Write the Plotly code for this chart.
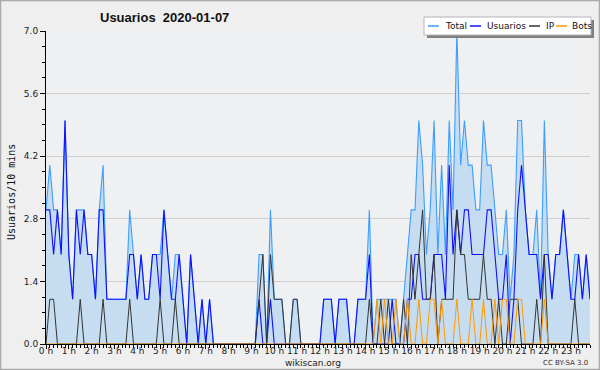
import plotly.graph_objects as go

# ---- data (10-minute buckets, 144 per day) ----
hours_labels = [f"{h} h" for h in range(24)]

total = [3,4,3,3,2,5,2,1,3,3,
         3,2,2,1,3,4,1,1,1,1,
         1,1,3,2,1,2,1,1,2,2,
         2,3,2,1,2,2,1,0,2,1,
         0,1,0,1,0,0,0,0,0,0,
         0,0,0,0,0,0,2,2,0,3,
         1,1,1,0,0,1,1,0,0,0,
         0,0,0,1,1,1,0,1,1,1,
         0,0,1,1,1,3,0,1,1,1,
         1,1,1,0,1,2,3,3,5,4,
         2,3,5,2,4,2,5,3,7,4,
         5,4,4,3,3,5,4,4,3,2,
         2,3,1,2,5,5,3,2,2,3,
         1,5,2,1,2,2,3,2,1,2,
         2,1,2,1]

usuarios = [3,3,2,3,2,5,2,1,3,2,
            3,2,2,1,3,3,1,1,1,1,
            1,1,2,2,1,2,1,1,2,2,
            1,3,2,1,1,2,1,0,2,1,
            0,1,0,1,0,0,0,0,0,0,
            0,0,0,0,0,0,1,0,0,1,
            0,0,0,0,0,0,0,0,0,0,
            0,0,0,1,1,1,0,1,1,1,
            0,0,1,1,1,2,0,0,0,0,
            0,1,0,0,0,1,1,2,2,1,
            1,1,2,2,2,1,4,2,3,2,
            3,3,2,2,2,2,3,3,2,1,
            1,2,0,1,3,4,3,2,2,2,
            1,2,2,1,2,2,3,2,1,1,
            2,1,2,1]

ip = [0,1,1,0,0,0,0,0,0,1,
      0,0,0,0,0,1,0,0,0,0,
      0,0,1,0,0,0,0,0,0,0,
      1,0,0,0,1,0,0,0,0,0,
      0,0,0,0,0,0,0,0,0,0,
      0,0,0,0,0,0,1,2,0,2,
      1,1,1,0,0,1,1,0,0,0,
      0,0,0,0,0,0,0,0,0,0,
      0,0,0,0,0,1,0,0,1,0,
      1,0,0,0,1,0,2,1,2,3,
      1,1,2,0,1,1,1,1,3,2,
      2,1,1,1,1,2,1,1,0,1,
      0,0,1,1,1,0,0,0,0,1,
      0,2,0,0,0,0,0,0,0,1,
      0,0,0,0]

bots = [0,0,0,0,0,0,0,0,0,0,
        0,0,0,0,0,0,0,0,0,0,
        0,0,0,0,0,0,0,0,0,0,
        0,0,0,0,0,0,0,0,0,0,
        0,0,0,0,0,0,0,0,0,0,
        0,0,0,0,0,0,0,0,0,0,
        0,0,0,0,0,0,0,0,0,0,
        0,0,0,0,0,0,0,0,0,0,
        0,0,0,0,0,0,0,1,0,1,
        0,0,1,0,0,1,0,0,1,0,
        0,1,1,0,1,0,0,0,1,0,
        0,0,1,0,0,1,0,0,1,0,
        1,1,0,0,1,1,0,0,0,0,
        0,1,0,0,0,0,0,0,0,0,
        0,0,0,0]

x = list(range(len(total)))

# ---- layout geometry (pixels) ----
W, H = 600, 370
ML, MR, MT, MB = 46, 10, 31, 26
PW, PH = W - ML - MR, H - MT - MB

def px(xp):
    return (xp - ML) / PW

def py(yp):
    return (H - MB - yp) / PH

C_TOTAL = "#3d9eff"
C_USR = "#1010ff"
C_IP = "#333333"
C_BOT = "#ff9900"

fig = go.Figure()
fig.add_trace(go.Scatter(x=x, y=total, mode="lines", name="Total",
                         line=dict(color=C_TOTAL, width=1.1),
                         fill="tozeroy", fillcolor="#c6ddf1"))
fig.add_trace(go.Scatter(x=x, y=usuarios, mode="lines", name="Usuarios",
                         line=dict(color=C_USR, width=1.1)))
fig.add_trace(go.Scatter(x=x, y=ip, mode="lines", name="IP",
                         line=dict(color=C_IP, width=1)))
fig.add_trace(go.Scatter(x=x, y=bots, mode="lines", name="Bots",
                         line=dict(color=C_BOT, width=1)))

tick_font = dict(family="DejaVu Sans", size=9, color="#222")

fig.update_layout(
    width=W, height=H,
    margin=dict(l=ML, r=MR, t=MT, b=MB, autoexpand=False),
    paper_bgcolor="#efefef",
    plot_bgcolor="#eef0f2",
    showlegend=False,
    title=dict(text="<b>Usuarios  2020-01-07</b>", x=100 / W, xanchor="left",
               xref="container", y=1 - 17 / H, yanchor="middle", yref="container",
               font=dict(family="Liberation Sans", size=13, color="#111")),
    xaxis=dict(range=[0, 143], tickvals=list(range(0, 144, 6)),
               ticktext=hours_labels, ticks="outside", ticklen=4,
               tickcolor="#000", showline=True, linecolor="#000", linewidth=1,
               showgrid=False, zeroline=False, tickfont=tick_font,
               automargin=False, ticklabelstandoff=-6,
               minor=dict(dtick=1, ticks="outside", ticklen=3, tickcolor="#000",
                          showgrid=False)),
    yaxis=dict(range=[0, 7], tickvals=[0, 1.4, 2.8, 4.2, 5.6, 7.0],
               ticktext=["0.0", "1.4", "2.8", "4.2", "5.6", "7.0"],
               ticks="outside", ticklen=5, tickcolor="#000",
               showline=True, linecolor="#000", linewidth=1,
               showgrid=True, gridcolor="#cfcfcf", gridwidth=1,
               zeroline=False, tickfont=tick_font, automargin=False,
               minor=dict(dtick=0.35, tick0=0, ticks="outside", ticklen=3,
                          tickcolor="#000", showgrid=False)),
)

shapes = []
annotations = []

# outer border
shapes.append(dict(type="rect", xref="paper", yref="paper",
                   x0=px(0.5), x1=px(W - 0.5), y0=py(H - 0.5), y1=py(0.5),
                   line=dict(color="#aaaaaa", width=1.5), fillcolor="rgba(0,0,0,0)",
                   layer="above"))

# legend box with shadow
shapes.append(dict(type="rect", xref="paper", yref="paper",
                   x0=px(427), x1=px(594), y0=py(38), y1=py(20),
                   line=dict(width=0), fillcolor="#808080", layer="above"))
shapes.append(dict(type="rect", xref="paper", yref="paper",
                   x0=px(424), x1=px(591), y0=py(35), y1=py(17),
                   line=dict(color="#b5b5b5", width=1), fillcolor="#ffffff",
                   layer="above"))
legend_items = [("Total", C_TOTAL, 428, 443),
                ("Usuarios", C_USR, 470, 485),
                ("IP", C_IP, 529, 544),
                ("Bots", C_BOT, 556, 570)]
for name, col, lx, tx in legend_items:
    shapes.append(dict(type="line", xref="paper", yref="paper",
                       x0=px(lx), x1=px(lx + 11), y0=py(26), y1=py(26),
                       line=dict(color=col, width=1.5), layer="above"))
    annotations.append(dict(text=name, xref="paper", yref="paper",
                            x=px(tx), y=py(26), xanchor="left", yanchor="middle",
                            showarrow=False,
                            font=dict(family="DejaVu Sans", size=9, color="#111")))

# axis titles and credits
annotations.append(dict(text="Usuarios/10 mins", xref="paper", yref="paper",
                        x=px(11), y=py(192), xanchor="center", yanchor="middle",
                        textangle=-90, showarrow=False,
                        font=dict(family="DejaVu Sans Mono", size=10, color="#111")))
annotations.append(dict(text="wikiscan.org", xref="paper", yref="paper",
                        x=px(313), y=py(363), xanchor="center", yanchor="middle",
                        showarrow=False,
                        font=dict(family="DejaVu Sans", size=9, color="#222")))
annotations.append(dict(text="CC BY-SA 3.0", xref="paper", yref="paper",
                        x=px(590), y=py(363), xanchor="right", yanchor="middle",
                        showarrow=False,
                        font=dict(family="DejaVu Sans", size=7, color="#333")))

fig.update_layout(shapes=shapes, annotations=annotations)
fig.write_html("out.html")
